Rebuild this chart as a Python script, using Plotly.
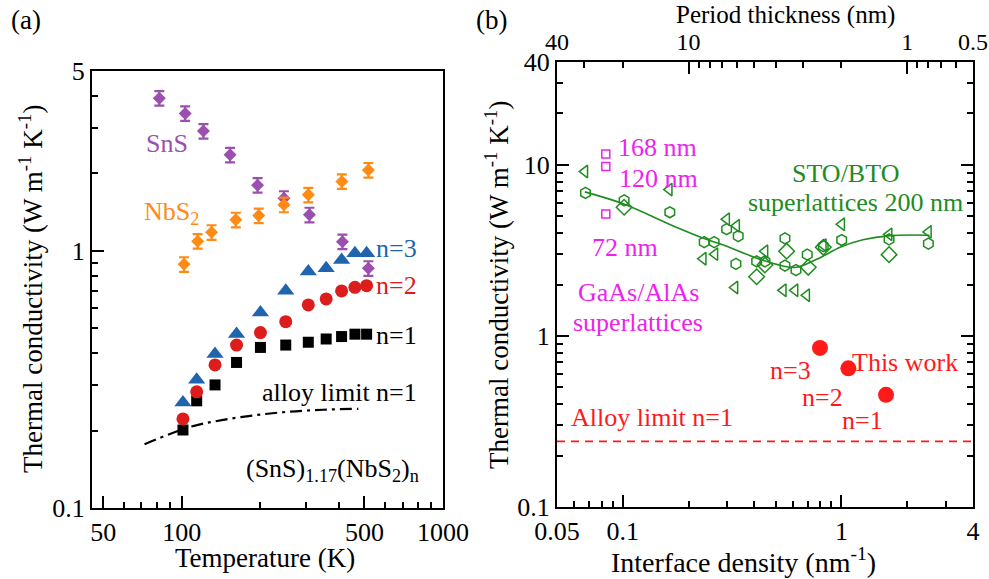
import plotly.graph_objects as go
import numpy as np

W, H = 989, 579
FONT = "Liberation Serif, Times New Roman, Times, serif"

# ---------------- Panel (a) data ----------------
T_SnS = [82, 103, 121, 153, 195, 246, 308, 412, 518]
k_SnS = [3.92, 3.42, 2.92, 2.36, 1.80, 1.60, 1.38, 1.085, 0.855]
T_NbS2 = [102, 115, 130, 161, 197, 246, 305, 410, 518]
k_NbS2 = [0.886, 1.09, 1.18, 1.32, 1.37, 1.51, 1.65, 1.86, 2.06]
T_misfit = [101, 114, 134, 162, 200, 250, 305, 357, 409, 460, 510]
k_n1 = [0.201, 0.261, 0.301, 0.368, 0.421, 0.430, 0.441, 0.454, 0.464, 0.474, 0.474]
k_n2 = [0.222, 0.283, 0.360, 0.430, 0.481, 0.530, 0.616, 0.650, 0.698, 0.721, 0.732]
k_n3 = [0.257, 0.315, 0.397, 0.475, 0.575, 0.700, 0.830, 0.855, 0.921, 0.978, 0.978]
T_alloy = [72, 108, 144, 194, 260, 348, 474]
k_alloy = [0.177, 0.207, 0.220, 0.230, 0.237, 0.241, 0.243]

# ---------------- Panel (b) data ----------------
d_gaas = [0.0836, 0.0836, 0.0836]
k_gaas = [11.6, 9.8, 5.17]

d_hex = [0.0675, 0.1014, 0.1641, 0.2357, 0.2618, 0.2985, 0.3373, 0.3292, 0.4095,
         0.4469, 0.5518, 0.5518, 0.6197, 0.6979, 0.8263, 1.003, 1.652, 2.50]
k_hex = [6.86, 6.21, 5.29, 3.54, 3.54, 4.21, 3.84, 2.64, 2.73,
         2.73, 3.72, 2.58, 2.43, 2.99, 3.35, 3.64, 3.67, 3.47]
d_dia = [0.1014, 0.4095, 0.4469, 0.5617, 0.7053, 0.8263, 1.652]
k_dia = [5.66, 2.22, 2.60, 3.13, 2.52, 3.30, 2.99]
d_tri = [0.067, 0.163, 0.2332, 0.2637, 0.2985, 0.3316, 0.3257, 0.4469, 0.542,
         0.6132, 0.6936, 0.8263, 1.003, 1.652, 2.50]
k_tri = [9.15, 7.18, 2.83, 3.01, 4.82, 4.41, 1.92, 3.13, 1.85,
         1.85, 1.73, 3.40, 4.50, 3.93, 4.06]
d_fit = [0.067, 0.1011, 0.1641, 0.2375, 0.2868, 0.4104, 0.5242, 0.6253, 0.7715,
         0.9999, 1.254, 1.664, 2.53]
k_fit = [6.96, 5.91, 4.49, 3.70, 3.41, 2.85, 2.59, 2.52, 2.81, 3.32, 3.65, 3.86, 3.88]

d_work = [0.798, 1.076, 1.60]
k_work = [0.851, 0.647, 0.453]
alloy_b = 0.242

period_major = [40, 10, 1, 0.5]
period_minor = [30, 20, 9, 8, 7, 6, 5, 4, 3, 2, 0.9, 0.8, 0.7, 0.6]

PURPLE = "#9b4fae"
ORANGE = "#ff8a14"
BLUE = "#2064ae"
RED = "#dd1c1c"
GREEN = "#1e8c1e"
MAGENTA = "#ee22ee"
BRED = "#ff1a1a"

fig = go.Figure()

errp = dict(type="percent", value=6.5, thickness=2.2, width=5)

fig.add_trace(go.Scatter(x=T_SnS, y=k_SnS, mode="markers", xaxis="x", yaxis="y",
                         marker=dict(symbol="diamond", size=10, color=PURPLE),
                         error_y=dict(errp, color=PURPLE)))
fig.add_trace(go.Scatter(x=T_NbS2, y=k_NbS2, mode="markers", xaxis="x", yaxis="y",
                         marker=dict(symbol="diamond", size=10, color=ORANGE),
                         error_y=dict(errp, color=ORANGE)))
fig.add_trace(go.Scatter(x=T_alloy, y=k_alloy, mode="lines", xaxis="x", yaxis="y",
                         line=dict(color="black", width=2.2, dash="12px,5px,3px,5px", shape="spline")))
fig.add_trace(go.Scatter(x=T_misfit, y=k_n1, mode="markers", xaxis="x", yaxis="y",
                         marker=dict(symbol="square", size=11, color="black")))
fig.add_trace(go.Scatter(x=T_misfit, y=k_n2, mode="markers", xaxis="x", yaxis="y",
                         marker=dict(symbol="circle", size=13, color=RED)))
fig.add_trace(go.Scatter(x=T_misfit, y=k_n3, mode="markers", xaxis="x", yaxis="y",
                         marker=dict(symbol="triangle-up", size=15, color=BLUE)))

# Panel (b)
fig.add_trace(go.Scatter(x=[0.05, 4], y=[alloy_b, alloy_b], mode="lines", xaxis="x2", yaxis="y2",
                         line=dict(color=BRED, width=1.6, dash="8px,6px")))
fig.add_trace(go.Scatter(x=d_fit, y=k_fit, mode="lines", xaxis="x2", yaxis="y2",
                         line=dict(color=GREEN, width=1.6, shape="spline")))
fig.add_trace(go.Scatter(x=d_hex, y=k_hex, mode="markers", xaxis="x2", yaxis="y2",
                         marker=dict(symbol="hexagon-open", size=11, color=GREEN, line=dict(width=1.5))))
fig.add_trace(go.Scatter(x=d_dia, y=k_dia, mode="markers", xaxis="x2", yaxis="y2",
                         marker=dict(symbol="diamond-open", size=12, color=GREEN, line=dict(width=1.5))))
fig.add_trace(go.Scatter(x=d_tri, y=k_tri, mode="markers", xaxis="x2", yaxis="y2",
                         marker=dict(symbol="triangle-left-open", size=11, color=GREEN, line=dict(width=1.5))))
fig.add_trace(go.Scatter(x=d_gaas, y=k_gaas, mode="markers", xaxis="x2", yaxis="y2",
                         marker=dict(symbol="square-open", size=8, color=MAGENTA, line=dict(width=1.5))))
fig.add_trace(go.Scatter(x=d_work, y=k_work, mode="markers", xaxis="x2", yaxis="y2",
                         marker=dict(symbol="circle", size=16, color=BRED)))
# invisible trace to anchor the top period axis
fig.add_trace(go.Scatter(x=[0.1], y=[1], mode="markers", xaxis="x3", yaxis="y2",
                         marker=dict(opacity=0), hoverinfo="skip"))

tickfont = dict(family=FONT, size=26, color="black")


def logax(rng, tickvals, ticktext, minor_vals, domain, anchor, mirror, side=None, **kw):
    d = dict(type="log", range=[np.log10(rng[0]), np.log10(rng[1])], domain=domain, anchor=anchor,
             tickmode="array", tickvals=tickvals, ticktext=ticktext,
             ticks="inside", ticklen=12, tickwidth=1.5, tickcolor="black",
             showline=True, linecolor="black", linewidth=2, mirror=mirror,
             showgrid=False, zeroline=False, tickfont=tickfont, automargin=False,
             ticklabeloverflow="allow",
             minor=dict(tickmode="array", tickvals=minor_vals, ticks="inside", ticklen=6,
                        tickwidth=1.5, tickcolor="black", showgrid=False))
    if side:
        d["side"] = side
    d.update(kw)
    return d


xa_dom = [92 / W, 443 / W]
ya_dom = [1 - 508 / H, 1 - 71 / H]
xb_dom = [557 / W, 973 / W]
yb_dom = [1 - 507 / H, 1 - 62 / H]

minor_T = [60, 70, 80, 90, 200, 300, 400, 600, 700, 800, 900]
minor_ka = [0.2, 0.3, 0.4, 0.5, 0.6, 0.7, 0.8, 0.9, 2, 3, 4]
minor_d = [0.06, 0.07, 0.08, 0.09, 0.2, 0.3, 0.4, 0.5, 0.6, 0.7, 0.8, 0.9, 2, 3]
minor_kb = [0.2, 0.3, 0.4, 0.5, 0.6, 0.7, 0.8, 0.9, 2, 3, 4, 5, 6, 7, 8, 9, 20, 30]

fig.update_layout(
    width=W, height=H, autosize=False,
    margin=dict(l=0, r=0, t=0, b=0, pad=0, autoexpand=False),
    paper_bgcolor="white", plot_bgcolor="white",
    showlegend=False,
    font=dict(family=FONT),
    xaxis=logax([45.3, 1000], [50, 100, 500, 1000], ["50", "100", "500", "1000"], minor_T,
                xa_dom, "y", True),
    yaxis=logax([0.1, 5], [0.1, 1, 5], ["0.1", "1", "5"], minor_ka, ya_dom, "x", True),
    xaxis2=logax([0.05, 4], [0.05, 0.1, 1, 4], ["0.05", "0.1", "1", "4"], minor_d,
                 xb_dom, "y2", True),
    yaxis2=logax([0.1, 40], [0.1, 1, 10, 40], ["0.1", "1", "10", "40"], minor_kb,
                 yb_dom, "x2", "ticks"),
    xaxis3=logax([0.05, 4.0001], [2 / p for p in period_major], [str(p) for p in period_major],
                 [2 / p for p in period_minor], xb_dom, "y2", False, side="top",
                 overlaying="x2", ticklabelstandoff=0,
                 tickfont=dict(family=FONT, size=24, color="black")),
)


def P(x, y):
    return x / W, 1 - y / H


def ann(x, y, text, color="black", size=26, angle=0):
    px, py = P(x, y)
    fig.add_annotation(x=px, y=py, xref="paper", yref="paper", text=text, showarrow=False,
                       textangle=angle, xanchor="center", yanchor="middle",
                       font=dict(family=FONT, size=size, color=color))


ykl = "Thermal conductivity (W m<sup>-1</sup> K<sup>-1</sup>)"
ann(26, 20, "(a)", size=27)
ann(491, 20, "(b)", size=27)
ann(31, 289, ykl, size=27, angle=-90)
ann(497, 285, ykl, size=27, angle=-90)
ann(265, 558, "Temperature (K)", size=27)
ann(743, 560, "Interface density (nm<sup>-1</sup>)", size=28)
ann(785, 15, "Period thickness (nm)", size=25)

ann(167, 143, "SnS", PURPLE)
ann(171, 213, "NbS<sub>2</sub>", ORANGE)
ann(396, 248, "n=3", BLUE)
ann(396, 285, "n=2", RED)
ann(396, 335, "n=1", "black")
ann(339, 392, "alloy limit n=1", "black")
ann(332, 470, "(SnS)<sub>1.17</sub>(NbS<sub>2</sub>)<sub>n</sub>", "black")

ann(657, 147, "168 nm", MAGENTA)
ann(658, 178, "120 nm", MAGENTA)
ann(625, 247, "72 nm", MAGENTA)
ann(638, 293, "GaAs/AlAs", MAGENTA)
ann(638, 322, "superlattices", MAGENTA)
ann(845, 173, "STO/BTO", GREEN)
ann(855, 202, "superlattices 200 nm", GREEN)
ann(905, 362, "This work", BRED)
ann(790, 370, "n=3", BRED)
ann(822, 397, "n=2", BRED)
ann(862, 420, "n=1", BRED)
ann(652, 417, "Alloy limit n=1", BRED)

fig.write_html("out.html")
